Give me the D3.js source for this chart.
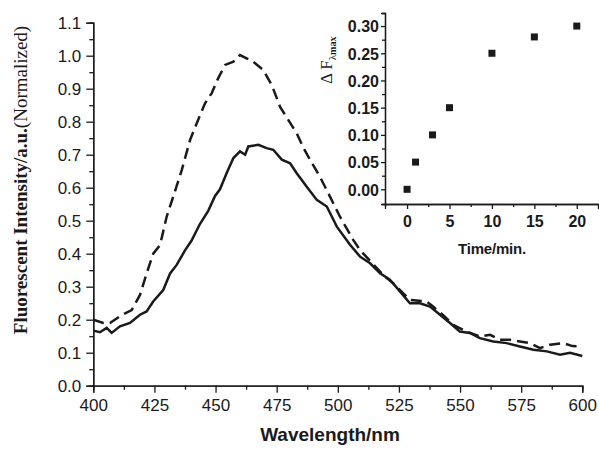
<!doctype html>
<html>
<meta charset="utf-8">
<style>
body { margin: 0; padding: 0; background: #fff; }
svg text { fill: #1a1a1a; }
</style>
<body>
<svg width="599" height="452"></svg>
<script src="https://d3js.org/d3.v7.min.js"></script>
<script>

// spectrum after reaction (solid) and the dashed one
var solidWl  = [400, 402.7, 405.5, 407.5, 410.9, 415, 419.1, 421.8, 424.5, 428.6, 431.4, 434.1, 437.5, 440.2, 443.6, 447, 449.8, 451.8, 454.6, 457.3, 460, 462.1, 463.4, 467.5, 470.9, 473.6, 477.1, 480.5, 483.2, 487.3, 491.4, 495.5, 499.6, 505, 509.1, 513.2, 517.3, 521.3, 525.4, 529.5, 533.6, 537.7, 541.8, 545.9, 549.9, 554, 558.1, 563.6, 569.1, 574.5, 580, 585.5, 590.9, 595, 600];
var solidVal = [0.167, 0.162, 0.175, 0.16, 0.18, 0.19, 0.215, 0.225, 0.255, 0.29, 0.34, 0.366, 0.41, 0.44, 0.49, 0.53, 0.575, 0.595, 0.645, 0.69, 0.71, 0.70, 0.725, 0.73, 0.72, 0.715, 0.685, 0.674, 0.644, 0.603, 0.563, 0.543, 0.482, 0.427, 0.391, 0.371, 0.341, 0.321, 0.286, 0.25, 0.25, 0.24, 0.215, 0.19, 0.164, 0.16, 0.144, 0.134, 0.129, 0.119, 0.109, 0.104, 0.094, 0.10, 0.09];

var dashWl  = [400, 404.1, 406.8, 411.6, 415.7, 419.1, 421.8, 424.5, 427.3, 430, 432.7, 436.2, 439.6, 442.3, 445.7, 448.4, 451.1, 453.9, 457.3, 460, 462.7, 465.4, 469.5, 473, 476.4, 479.8, 483.2, 486, 488.7, 492.7, 496.8, 500.9, 506.3, 509.1, 518.6, 522.7, 529.5, 536.4, 539.1, 543.1, 547.2, 552.7, 558.2, 562.3, 566.3, 570.4, 574.5, 578.6, 582.7, 586.8, 592.2, 596, 600];
var dashVal = [0.2, 0.19, 0.19, 0.214, 0.229, 0.275, 0.34, 0.40, 0.426, 0.512, 0.573, 0.654, 0.745, 0.795, 0.856, 0.886, 0.932, 0.972, 0.982, 1.002, 0.992, 0.982, 0.957, 0.911, 0.845, 0.805, 0.765, 0.72, 0.684, 0.633, 0.573, 0.512, 0.442, 0.411, 0.335, 0.31, 0.26, 0.255, 0.239, 0.214, 0.184, 0.164, 0.149, 0.154, 0.139, 0.139, 0.134, 0.129, 0.114, 0.124, 0.129, 0.12, 0.119];

// inset: change of max intensity vs time
var timeMin = [0, 1, 3, 5, 10, 15, 20];
var deltaF  = [0, 0.05, 0.10, 0.15, 0.25, 0.28, 0.30];

var xTicks = [400, 425, 450, 475, 500, 525, 550, 575, 600];
var yTicks = [0, 0.1, 0.2, 0.3, 0.4, 0.5, 0.6, 0.7, 0.8, 0.9, 1.0, 1.1];
var insetXTicks = [0, 5, 10, 15, 20];
var insetYTicks = [0, 0.05, 0.10, 0.15, 0.20, 0.25, 0.30];

var ink = "#1a1a1a";
var svg = d3.select("svg");

// main scales
var x = d3.scaleLinear().domain([400, 600]).range([93.3, 582.3]);
var y = d3.scaleLinear().domain([0, 1.1]).range([385.7, 22.7]);

function styleAxis(g, font, weight) {
  g.selectAll("path, line").attr("stroke", ink).attr("stroke-width", 1.3);
  g.selectAll("text").style("font-family", "'Liberation Sans', Arial, sans-serif")
    .style("font-size", font).style("font-weight", weight).attr("fill", ink);
}

// minor ticks first, then major
var gxm = svg.append("g").attr("transform", "translate(0,385.7)")
  .call(d3.axisBottom(x).tickValues(d3.range(412.5, 600, 25)).tickSize(4).tickFormat(""));
styleAxis(gxm, "17px", "normal");
var gx = svg.append("g").attr("transform", "translate(0,385.7)")
  .call(d3.axisBottom(x).tickValues(xTicks).tickSize(7).tickPadding(5).tickFormat(d3.format("d")));
styleAxis(gx, "17px", "normal");

var gym = svg.append("g").attr("transform", "translate(93.3,0)")
  .call(d3.axisLeft(y).tickValues(d3.range(0.05, 1.1, 0.1)).tickSize(4).tickFormat(""));
styleAxis(gym, "17px", "normal");
var gy = svg.append("g").attr("transform", "translate(93.3,0)")
  .call(d3.axisLeft(y).tickValues(yTicks).tickSize(7).tickPadding(5).tickFormat(d3.format(".1f")));
styleAxis(gy, "17px", "normal");
gy.selectAll("text").attr("dy", "0.36em");
gx.selectAll("text").attr("dy", "0.8em");

// curves
var line = d3.line().x(function(d) { return x(d[0]); }).y(function(d) { return y(d[1]); });

svg.append("path")
  .datum(d3.zip(dashWl, dashVal))
  .attr("d", line)
  .attr("fill", "none")
  .attr("stroke", ink)
  .attr("stroke-width", 2.5)
  .attr("stroke-dasharray", "11,6");

svg.append("path")
  .datum(d3.zip(solidWl, solidVal))
  .attr("d", line)
  .attr("fill", "none")
  .attr("stroke", ink)
  .attr("stroke-width", 2.5);

// axis titles
svg.append("text")
  .attr("x", 330).attr("y", 441)
  .attr("text-anchor", "middle")
  .style("font-family", "'Liberation Sans', Arial, sans-serif")
  .style("font-size", "19px").style("font-weight", "bold")
  .text("Wavelength/nm");

var yt = svg.append("text")
  .attr("transform", "translate(27,180) rotate(-90)")
  .attr("text-anchor", "middle")
  .style("font-family", "'Liberation Serif', 'Times New Roman', serif")
  .style("font-size", "19px");
yt.append("tspan").style("font-weight", "bold").text("Fluorescent Intensity/a.u.");
yt.append("tspan").text("(Normalized)");

// inset
var ix = d3.scaleLinear().domain([-2.6, 22.5]).range([385, 598]);
var iy = d3.scaleLinear().domain([-0.027, 0.324]).range([204, 13]);

var ixm = svg.append("g").attr("transform", "translate(0,204)")
  .call(d3.axisBottom(ix).tickValues([2.5, 7.5, 12.5, 17.5]).tickSize(3).tickFormat(""));
styleAxis(ixm, "16px", "bold");
var ixa = svg.append("g").attr("transform", "translate(0,204)")
  .call(d3.axisBottom(ix).tickValues(insetXTicks).tickSize(5).tickPadding(5).tickFormat(d3.format("d")));
styleAxis(ixa, "16px", "bold");
ixa.selectAll("text").attr("dy", "0.8em");

var iym = svg.append("g").attr("transform", "translate(385,0)")
  .call(d3.axisLeft(iy).tickValues([0.025, 0.075, 0.125, 0.175, 0.225, 0.275]).tickSize(3).tickFormat(""));
styleAxis(iym, "16px", "bold");
var iya = svg.append("g").attr("transform", "translate(385,0)")
  .call(d3.axisLeft(iy).tickValues(insetYTicks).tickSize(4).tickPadding(2).tickFormat(d3.format(".2f")));
styleAxis(iya, "16px", "bold");
iya.selectAll("text").attr("dy", "0.36em");

svg.append("g").selectAll("rect")
  .data(d3.zip(timeMin, deltaF))
  .join("rect")
  .attr("x", function(d) { return ix(d[0]) - 3.5; })
  .attr("y", function(d) { return iy(d[1]) - 3.5; })
  .attr("width", 7).attr("height", 7)
  .attr("fill", ink);

svg.append("text")
  .attr("x", 492).attr("y", 254)
  .attr("text-anchor", "middle")
  .style("font-family", "'Liberation Sans', Arial, sans-serif")
  .style("font-size", "15px").style("font-weight", "bold")
  .style("letter-spacing", "-0.2px")
  .text("Time/min.");

var il = svg.append("text")
  .attr("transform", "translate(332,84) rotate(-90)")
  .style("font-family", "'Liberation Serif', 'Times New Roman', serif")
  .style("font-size", "17px");
il.append("tspan").text("\u0394 F");
il.append("tspan").attr("dy", 4).style("font-size", "11px").text("\u03bb");
il.append("tspan").style("font-size", "10px").style("font-weight", "bold").text("max");

</script>
</body>
</html>
